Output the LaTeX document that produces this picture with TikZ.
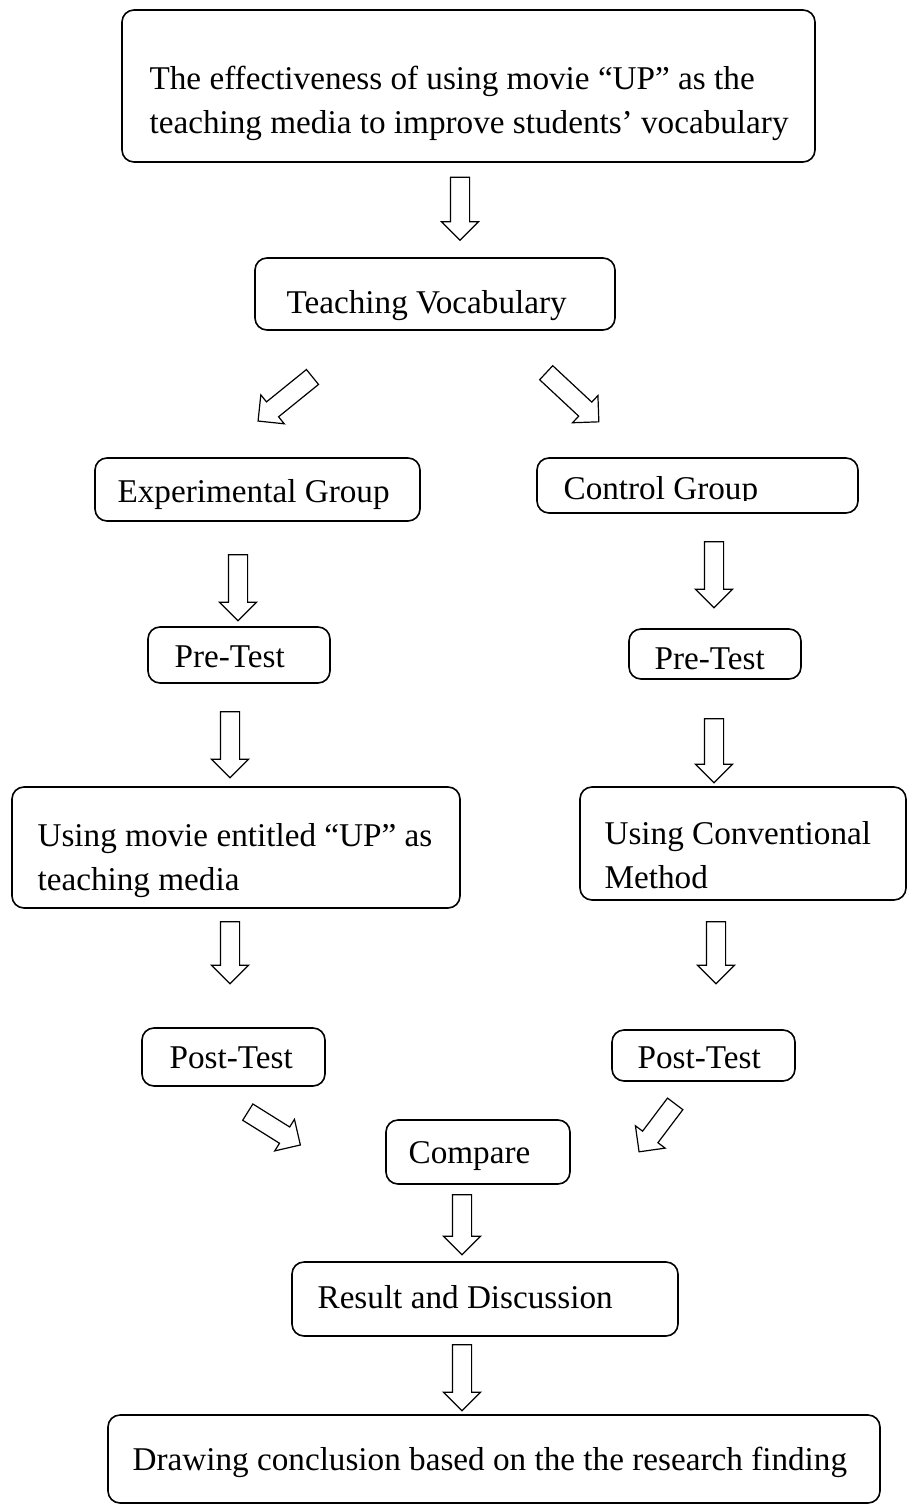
\documentclass[tikz,border=0pt]{standalone}
\usepackage{fontspec}
\setmainfont{Liberation Serif}
\usepackage{tikz}
\usetikzlibrary{shapes.arrows}

\begin{document}
\begin{tikzpicture}[x=0.5pt, y=-0.5pt,
  box/.style={draw, rounded corners=6pt, line width=0.8pt, inner sep=0pt},
  txt/.style={inner sep=0pt, anchor=base west, align=left, font=\fontsize{16.6}{22}\selectfont},
  barrow/.style={single arrow, draw, line width=0.6pt, inner sep=4.5pt, minimum width=18pt,
    single arrow head extend=4.5pt, single arrow tip angle=90, minimum height=#1}]
\useasboundingbox (0,0) rectangle (909,1507);
% boxes
\node[box, minimum width=346.5pt, minimum height=76pt] (topic) at (468.5,86) {};
\node[box, minimum width=180pt, minimum height=36pt] (teach) at (435,294) {};
\node[box, minimum width=162.5pt, minimum height=31.5pt] (expg) at (257.5,489.5) {};
\node[box, minimum width=160.5pt, minimum height=27.5pt] (cong) at (697.5,485.5) {};
\node[box, minimum width=91pt, minimum height=28pt] (preE) at (239,655) {};
\node[box, minimum width=86pt, minimum height=25pt] (preC) at (715,654) {};
\node[box, minimum width=224pt, minimum height=60.5pt] (movie) at (236,847.5) {};
\node[box, minimum width=163pt, minimum height=56.5pt] (conv) at (743,843.5) {};
\node[box, minimum width=91.5pt, minimum height=29pt] (postE) at (233.5,1057) {};
\node[box, minimum width=91.5pt, minimum height=25.5pt] (postC) at (703.5,1055.5) {};
\node[box, minimum width=92pt, minimum height=32pt] (comp) at (478,1152) {};
\node[box, minimum width=193pt, minimum height=37pt] (res) at (485,1299) {};
\node[box, minimum width=386pt, minimum height=44pt] (concl) at (494,1459) {};
% texts (base = last line)
\node[txt] (topicT) at ([shift={(28,124)}]topic.north west)
  {The effectiveness of using movie “UP” as the\\teaching media to improve students’ vocabulary};
\node[txt] (teachT) at ([shift={(32,56)}]teach.north west) {Teaching Vocabulary};
\node[txt] (expgT) at ([shift={(23,45)}]expg.north west) {Experimental Group};
\begin{scope}
\clip (cong.north west) rectangle ([shift={(0,43)}]cong.north east);
\node[txt] (congT) at ([shift={(27,42)}]cong.north west) {Control Group};
\end{scope}
\node[txt] (preET) at ([shift={(27,41)}]preE.north west) {Pre-Test};
\node[txt] (preCT) at ([shift={(26,41)}]preC.north west) {Pre-Test};
\node[txt] (movieT) at ([shift={(26,104)}]movie.north west) {Using movie entitled “UP” as\\teaching media};
\node[txt] (convT) at ([shift={(25,102)}]conv.north west) {Using Conventional\\Method};
\node[txt] (postET) at ([shift={(28,41)}]postE.north west) {Post-Test};
\node[txt] (postCT) at ([shift={(26,39)}]postC.north west) {Post-Test};
\node[txt] (compT) at ([shift={(23,44)}]comp.north west) {Compare};
\node[txt] (resT) at ([shift={(26,47)}]res.north west) {Result and Discussion};
\node[txt] (conclT) at ([shift={(25,56)}]concl.north west) {Drawing conclusion based on the the research finding};
% block arrows
\node[barrow=31.5pt, rotate=-90] (a1) at (460,204) {};
\node[barrow=35pt, rotate=-141] (a2) at (289,396) {};
\node[barrow=36pt, rotate=-43] (a3) at (569,394) {};
\node[barrow=33pt, rotate=-90] (a4) at (238,583) {};
\node[barrow=33pt, rotate=-90] (a5) at (714,570) {};
\node[barrow=33pt, rotate=-90] (a6) at (230,740) {};
\node[barrow=32pt, rotate=-90] (a7) at (714,746) {};
\node[barrow=31pt, rotate=-90] (a8) at (230,948) {};
\node[barrow=31pt, rotate=-90] (a9) at (716,948) {};
\node[barrow=31pt, rotate=-32] (a10) at (270,1126) {};
\node[barrow=30pt, rotate=-127] (a11) at (660,1124) {};
\node[barrow=30pt, rotate=-90] (a12) at (462,1220) {};
\node[barrow=33pt, rotate=-90] (a13) at (462,1373) {};
\end{tikzpicture}
\end{document}
